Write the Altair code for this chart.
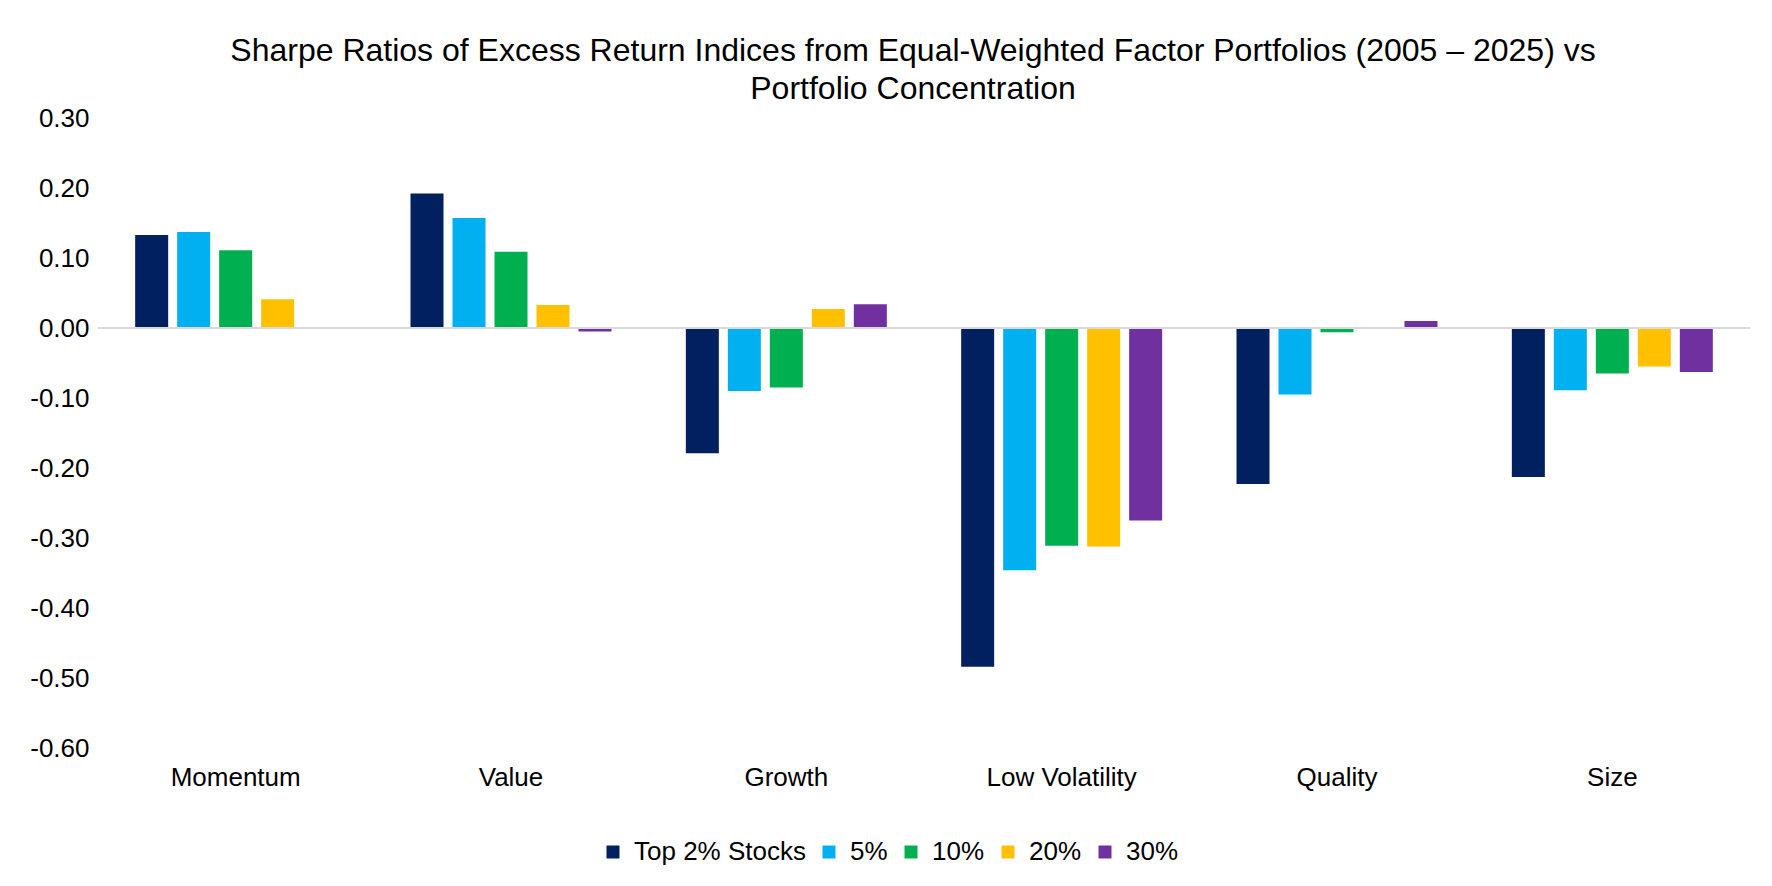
import altair as alt
import pandas as pd

categories = ["Momentum", "Value", "Growth", "Low Volatility", "Quality", "Size"]
series = ["Top 2% Stocks", "5%", "10%", "20%", "30%"]
colors = ["#002060", "#00B0F0", "#00B050", "#FFC000", "#7030A0"]

top2 = [0.133, 0.192, -0.179, -0.484, -0.223, -0.213]
p5 = [0.137, 0.157, -0.090, -0.346, -0.095, -0.089]
p10 = [0.111, 0.109, -0.085, -0.311, -0.006, -0.065]
p20 = [0.041, 0.033, 0.027, -0.312, 0.0, -0.055]
p30 = [0.0, -0.005, 0.034, -0.275, 0.010, -0.063]
y_ticks = [-0.6, -0.5, -0.4, -0.3, -0.2, -0.1, 0.0, 0.1, 0.2, 0.3]

values = [top2, p5, p10, p20, p30]
rows = []
for s, vals in zip(series, values):
    for c, v in zip(categories, vals):
        rows.append({"Factor": c, "Portfolio": s, "Sharpe": v})
df = pd.DataFrame(rows)

FONT = "Liberation Sans"

bars = alt.Chart(df).mark_bar().encode(
    x=alt.X("Factor:N", sort=categories,
            scale=alt.Scale(paddingInner=0, paddingOuter=0),
            axis=alt.Axis(title=None, labelAngle=0, domain=False, ticks=False,
                          labelFontSize=26, labelFont=FONT, labelColor="#000000",
                          labelPadding=16)),
    xOffset=alt.XOffset("Portfolio:N", sort=series,
                        scale=alt.Scale(paddingInner=0.214, paddingOuter=0.885)),
    y=alt.Y("Sharpe:Q",
            scale=alt.Scale(domain=[-0.6, 0.3], nice=False, zero=False),
            axis=alt.Axis(title=None, values=y_ticks,
                          labelExpr="replace(format(datum.value, '.2f'), '\u2212', '-')",
                          grid=False, domain=False, ticks=False,
                          labelFontSize=26, labelFont=FONT, labelColor="#000000",
                          labelPadding=9)),
    color=alt.Color("Portfolio:N", sort=series,
                    scale=alt.Scale(domain=series, range=colors),
                    legend=alt.Legend(title=None, orient="none", direction="horizontal",
                                      legendX=502, legendY=721, padding=0,
                                      symbolType="square", symbolSize=169,
                                      symbolStrokeWidth=0, labelLimit=0,
                                      labelFontSize=26, labelFont=FONT,
                                      labelColor="#000000", labelOffset=8,
                                      columnPadding=10)),
)

zero = alt.Chart(pd.DataFrame({"y": [0.0]})).mark_rule(color="#D9D9D9", strokeWidth=2).encode(
    y=alt.Y("y:Q")
)

chart = alt.layer(bars, zero).properties(
    width=1652,
    height=630,
    background="#FFFFFF",
    padding={"left": 90, "top": 110, "right": 14, "bottom": 124},
    autosize=alt.AutoSizeParams(type="none"),
    title=alt.TitleParams(
        text=["Sharpe Ratios of Excess Return Indices from Equal-Weighted Factor Portfolios (2005 \u2013 2025) vs",
              "Portfolio Concentration"],
        font=FONT, fontSize=32, fontWeight="normal", color="#000000",
        anchor="middle", lineHeight=38, offset=22, dx=-11, dy=23,
    ),
).configure_view(stroke=None, strokeWidth=0)

chart.save("out.html", embed_options={"renderer": "svg", "actions": False})
